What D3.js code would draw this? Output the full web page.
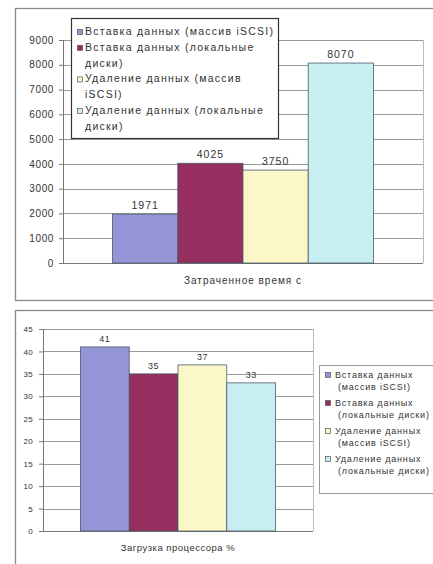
<!DOCTYPE html>
<html>
<head>
<meta charset="utf-8">
<script src="https://cdn.jsdelivr.net/npm/d3@7"></script>
<style>
  body { margin: 0; background: #fff; }
  text { font-family: "Liberation Sans", Arial, sans-serif; fill: #333; }
</style>
</head>
<body>
<div id="chart"></div>
<script>
//// Data
const series = ["insert_iscsi", "insert_local", "delete_iscsi", "delete_local"]
const series_colors = ["#9494d6", "#962e60", "#fbf7c9", "#c9eef2"]

const time_category = "Затраченное время с"
const time_values = [1971, 4025, 3750, 8070]
const time_ticks = [0, 1000, 2000, 3000, 4000, 5000, 6000, 7000, 8000, 9000]
const time_legend = [
    ["Вставка данных (массив iSCSI)"],
    ["Вставка данных (локальные", "диски)"],
    ["Удаление данных (массив", "iSCSI)"],
    ["Удаление данных (локальные", "диски)"]
]

const cpu_category = "Загрузка процессора %"
const cpu_values = [41, 35, 37, 33]
const cpu_ticks = [0, 5, 10, 15, 20, 25, 30, 35, 40, 45]
const cpu_legend = [
    ["Вставка данных", "(массив iSCSI)"],
    ["Вставка данных", "(локальные диски)"],
    ["Удаление данных", "(массив iSCSI)"],
    ["Удаление данных", "(локальные диски)"]
]

//// Page
const svg = d3.select("#chart")
    .append("svg")
        .attr("width", 433)
        .attr("height", 564)

// Draw one bar chart panel
function draw_panel(opt) {
    const g = svg.append("g")

    // outer frame (runs off the right / bottom edge like in the scan)
    g.append("rect")
        .attr("x", opt.frame[0] + 0.5)
        .attr("y", opt.frame[1] + 0.5)
        .attr("width", opt.frame[2])
        .attr("height", opt.frame[3])
        .attr("fill", "#fff")
        .attr("stroke", "#8a8a8a")
        .attr("stroke-width", 1.3)

    const y = d3.scaleLinear()
        .domain([0, d3.max(opt.ticks)])
        .range([opt.plot.bottom, opt.plot.top])

    const x = d3.scaleBand()
        .domain([opt.category])
        .range([opt.plot.left, opt.plot.right])
        .paddingOuter(opt.outer_pad)

    const xs = d3.scaleBand()
        .domain(series)
        .range([x(opt.category), x(opt.category) + x.bandwidth()])

    // gridlines
    g.append("g")
        .selectAll("line")
        .data(opt.ticks)
        .enter()
        .append("line")
            .attr("x1", opt.plot.left)
            .attr("x2", opt.plot.right)
            .attr("y1", d => Math.round(y(d)) + 0.5)
            .attr("y2", d => Math.round(y(d)) + 0.5)
            .attr("stroke", "#9a9a9a")
            .attr("stroke-width", 1)

    // right border of plot area
    g.append("line")
        .attr("x1", opt.plot.right + 0.5)
        .attr("x2", opt.plot.right + 0.5)
        .attr("y1", opt.plot.top)
        .attr("y2", opt.plot.bottom)
        .attr("stroke", "#bbb")

    // y axis
    const y_axis = g.append("g")
        .attr("transform", "translate(" + opt.plot.left + ",0)")
        .call(d3.axisLeft(y)
            .tickValues(opt.ticks)
            .tickFormat(d3.format("d"))
            .tickSize(4)
            .tickPadding(opt.tick_pad))
    y_axis.selectAll("path, line").attr("stroke", "#777")
    y_axis.selectAll("text")
        .style("font-family", "Liberation Sans, Arial, sans-serif")
        .style("font-size", opt.tick_font + "px")
        .style("letter-spacing", opt.tick_ls + "px")
        .attr("fill", "#555")

    // x axis line
    g.append("line")
        .attr("x1", opt.plot.left)
        .attr("x2", opt.plot.right)
        .attr("y1", opt.plot.bottom + 0.5)
        .attr("y2", opt.plot.bottom + 0.5)
        .attr("stroke", "#777")

    // bars
    g.append("g")
        .selectAll("rect")
        .data(opt.values)
        .enter()
        .append("rect")
            .attr("x", (d, i) => xs(series[i]))
            .attr("y", d => y(d))
            .attr("width", xs.bandwidth())
            .attr("height", d => opt.plot.bottom - y(d))
            .attr("fill", (d, i) => series_colors[i])
            .attr("stroke", "#4a5a66")
            .attr("stroke-width", 0.8)

    // value labels
    g.append("g")
        .selectAll("text")
        .data(opt.values)
        .enter()
        .append("text")
            .attr("x", (d, i) => xs(series[i]) + xs.bandwidth() / 2)
            .attr("y", d => y(d) - opt.label_gap)
            .attr("text-anchor", "middle")
            .style("font-size", opt.label_font + "px")
            .style("letter-spacing", opt.label_ls + "px")
            .text(d => d)

    // category label
    g.append("text")
        .attr("x", (opt.plot.left + opt.plot.right) / 2)
        .attr("y", opt.cat_y)
        .attr("text-anchor", "middle")
        .style("font-size", opt.cat_font + "px")
        .style("letter-spacing", opt.cat_ls + "px")
        .text(opt.category)

    // legend
    const lg = opt.legend
    g.append("rect")
        .attr("x", lg.x + 0.5)
        .attr("y", lg.y + 0.5)
        .attr("width", lg.w)
        .attr("height", lg.h)
        .attr("fill", "#fff")
        .attr("stroke", lg.stroke)
        .attr("stroke-width", lg.stroke_w)

    let line_y = lg.y + lg.first
    opt.legend_labels.forEach((lines, i) => {
        g.append("rect")
            .attr("x", lg.x + lg.marker_x + 0.5)
            .attr("y", line_y - lg.marker - 0.5)
            .attr("width", lg.marker)
            .attr("height", lg.marker)
            .attr("fill", series_colors[i])
            .attr("stroke", "#555")
            .attr("stroke-width", 0.7)
        lines.forEach((t, j) => {
            g.append("text")
                .attr("x", lg.x + (j === 0 ? lg.text_x : lg.indent))
                .attr("y", line_y)
                .style("font-size", lg.font + "px")
                .style("letter-spacing", lg.ls + "px")
                .text(t)
            line_y += lg.line
        })
        line_y += lg.gap
    })
}

draw_panel({
    frame: [15, 8, 440, 292],
    plot: {left: 63, right: 423, top: 40, bottom: 263},
    outer_pad: 0.19,
    category: time_category,
    values: time_values,
    ticks: time_ticks,
    tick_font: 10,
    tick_ls: 0.6,
    tick_pad: 5,
    label_font: 10.5,
    label_ls: 1,
    label_gap: 5,
    cat_y: 284,
    cat_font: 10,
    cat_ls: 1,
    legend_labels: time_legend,
    legend: {x: 71, y: 18, w: 207, h: 120, stroke: "#333", stroke_w: 1.2,
             first: 17, line: 15.8, gap: 0, marker: 5, marker_x: 6, text_x: 14, indent: 14,
             font: 10.5, ls: 1.25}
})

draw_panel({
    frame: [15, 310, 440, 270],
    plot: {left: 43, right: 313, top: 329, bottom: 531},
    outer_pad: 0.192,
    category: cpu_category,
    values: cpu_values,
    ticks: cpu_ticks,
    tick_font: 8,
    tick_ls: 0.3,
    tick_pad: 6,
    label_font: 9,
    label_ls: 0.5,
    label_gap: 5,
    cat_y: 551,
    cat_font: 9.5,
    cat_ls: 0.5,
    legend_labels: cpu_legend,
    legend: {x: 319, y: 365, w: 130, h: 128, stroke: "#999", stroke_w: 1,
             first: 13, line: 11.5, gap: 5, marker: 5, marker_x: 6, text_x: 16, indent: 19,
             font: 9, ls: 0.8}
})
</script>
</body>
</html>
